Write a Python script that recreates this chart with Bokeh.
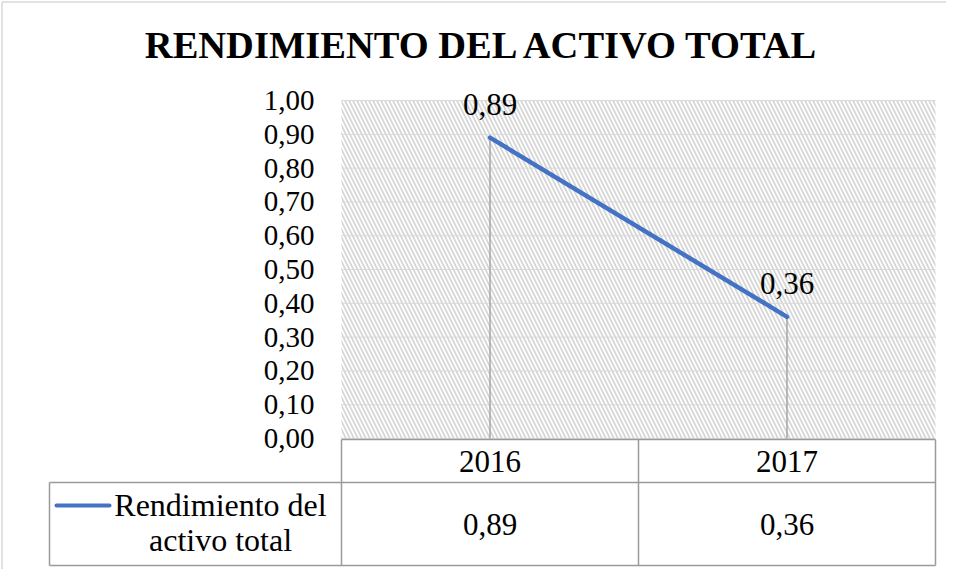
from bokeh.plotting import figure
from bokeh.models import Range1d, FixedTicker, LabelSet, ColumnDataSource
from bokeh.embed import file_html
from bokeh.resources import INLINE
from bokeh.core.properties import value

# ---- data ----
title_text = "RENDIMIENTO DEL ACTIVO TOTAL"
years = ["2016", "2017"]
series_name = "Rendimiento del activo total"
values = [0.89, 0.36]
value_labels = ["0,89", "0,36"]
y_ticks = [0.0, 0.1, 0.2, 0.3, 0.4, 0.5, 0.6, 0.7, 0.8, 0.9, 1.0]
y_tick_labels = ["0,00", "0,10", "0,20", "0,30", "0,40", "0,50",
                 "0,60", "0,70", "0,80", "0,90", "1,00"]

FONT = "Liberation Serif"
BLUE = "#4472C4"
GRID = "#d9d9d9"
TABLE_LINE = "#9a9a9a"

W, H = 946, 569
PLOT_L, CAT_W = 341, 297      # pixel of x=0, pixels per category
PLOT_B, UNIT_H = 438, 338     # pixel of y=0, pixels per 1.0


def dx(px):
    return (px - PLOT_L) / CAT_W


def dy(py):
    return (PLOT_B - py) / UNIT_H


n = len(years)
xs = [i + 0.5 for i in range(n)]
src = ColumnDataSource(dict(x=xs, y=values, lab=value_labels, year=years))

p = figure(width=W, height=H, x_range=Range1d(dx(0), dx(W)),
           y_range=Range1d(dy(H), dy(0)),
           output_backend="svg", toolbar_location=None, x_axis_location=None,
           min_border_left=0, min_border_right=0, min_border_top=0,
           min_border_bottom=0)
p.outline_line_color = None
p.background_fill_color = "white"
p.border_fill_color = "white"
p.xgrid.visible = False
p.ygrid.visible = False

# outer chart border (left and top edges visible)
p.segment(x0=[dx(1.5), dx(1.5)], y0=[dy(1.5), dy(1.5)],
          x1=[dx(1.5), dx(W)], y1=[dy(H), dy(1.5)],
          line_color="#d9d9d9", line_width=1.5)

# hatched plot area
p.quad(left=[0], right=[n], bottom=[y_ticks[0]], top=[y_ticks[-1]],
       fill_color=None, line_color=None, hatch_pattern="\\",
       hatch_color="#d6d6d6", hatch_scale=8, hatch_weight=1.8, level="image")

# horizontal gridlines limited to the plot area
p.segment(x0=[0] * len(y_ticks), y0=y_ticks, x1=[n] * len(y_ticks), y1=y_ticks,
          line_color=GRID, line_width=1, level="underlay")

# y axis placed at x=0 inside the canvas
ya = p.yaxis[0]
ya.fixed_location = 0
ya.bounds = (y_ticks[0], y_ticks[-1])
ya.ticker = FixedTicker(ticks=y_ticks)
ya.major_label_overrides = dict(zip(y_ticks, y_tick_labels))
ya.axis_line_color = None
ya.major_tick_line_color = None
ya.minor_tick_line_color = None
ya.major_tick_out = 0
ya.major_tick_in = 0
ya.major_label_standoff = 27
ya.major_label_text_font = FONT
ya.major_label_text_font_size = "29px"
ya.major_label_text_color = "black"

# drop lines and series line
p.segment(x0="x", y0=0, x1="x", y1="y", source=src,
          line_color="#a6a6a6", line_width=1.5)
p.line("x", "y", source=src, line_color=BLUE, line_width=4.5, line_cap="round")

p.add_layout(LabelSet(x="x", y="y", text="lab", source=src, y_offset=23,
                      text_align="center", text_baseline="alphabetic",
                      text_font=value(FONT), text_font_size=value("31px"),
                      text_color="black"))

# title
p.text(x=[dx(482.5)], y=[dy(58 - 14)], text=[title_text], text_align="center",
       text_baseline="alphabetic", text_font=value(FONT), text_font_size="38.5px",
       text_font_style="bold", text_color="black")

# ---- data table ----
t_top, t_mid, t_bot = dy(439), dy(482), dy(565)
left_edge = dx(49)
q_hx0 = [0, left_edge, left_edge]
q_hy = [t_top, t_mid, t_bot]
p.segment(x0=q_hx0, y0=q_hy, x1=[n] * 3, y1=q_hy,
          line_color=TABLE_LINE, line_width=1.5)
vx = list(range(n + 1))
p.segment(x0=vx, y0=[t_top] * len(vx), x1=vx, y1=[t_bot] * len(vx),
          line_color=TABLE_LINE, line_width=1.5)
p.segment(x0=[left_edge], y0=[t_mid], x1=[left_edge], y1=[t_bot],
          line_color=TABLE_LINE, line_width=1.5)

p.text(x="x", y=dy(472 - 11), text="year", source=src, text_align="center",
       text_baseline="alphabetic", text_font=value(FONT), text_font_size="31px",
       text_color="black")
p.text(x="x", y=dy(535 - 11), text="lab", source=src, text_align="center",
       text_baseline="alphabetic", text_font=value(FONT), text_font_size="31px",
       text_color="black")

# legend key + series name
p.segment(x0=[dx(56)], y0=[dy(505)], x1=[dx(109)], y1=[dy(505)],
          line_color=BLUE, line_width=4, line_cap="round")
words = series_name.split(" ")
name_lines = [" ".join(words[:2]), " ".join(words[2:])]
p.text(x=[dx(220)] * 2, y=[dy(515 - 11), dy(550 - 11)], text=name_lines,
       text_align="center", text_baseline="alphabetic", text_font=value(FONT),
       text_font_size="32px", text_color="black")

open("out.html", "w").write(file_html(p, INLINE))
